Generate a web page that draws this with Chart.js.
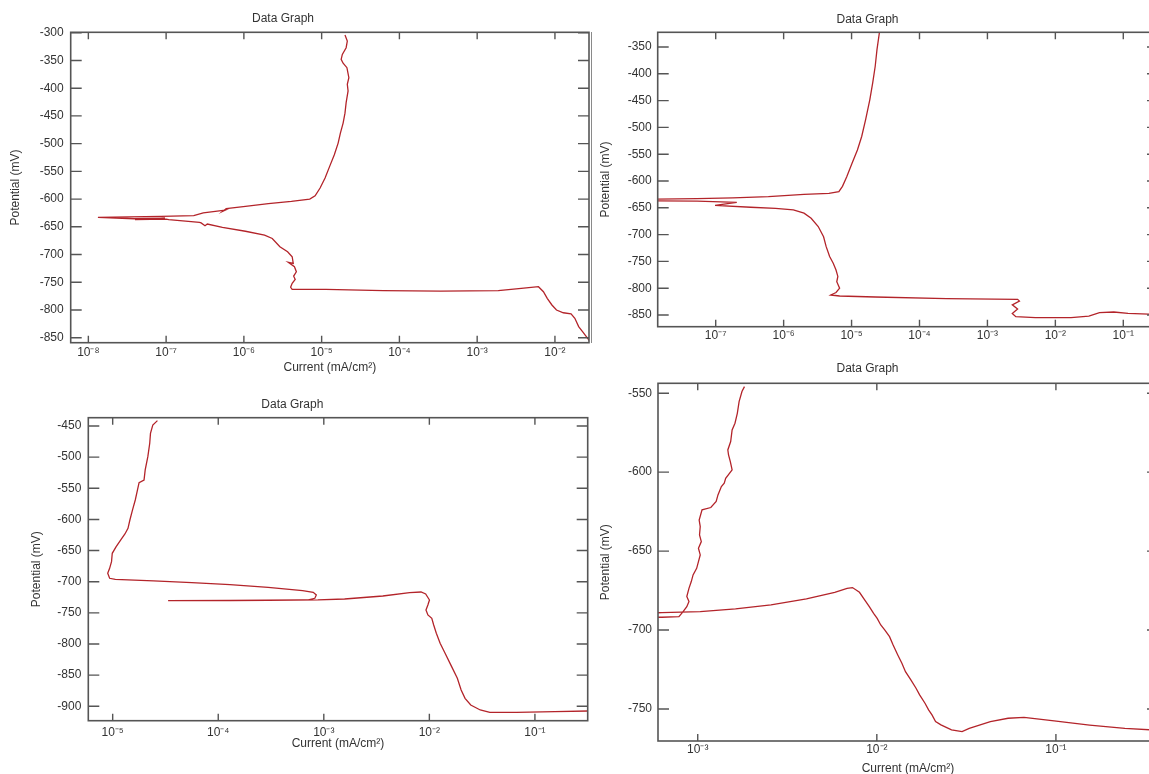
<!DOCTYPE html>
<html>
<head>
<meta charset="utf-8">
<title>Data Graph</title>
<script src="https://cdn.jsdelivr.net/npm/chart.js@4.4.1/dist/chart.umd.min.js"></script>
<style>
  body { margin: 0; width: 1149px; height: 774px; overflow: hidden; background: #fff; position: relative; }
  canvas { position: absolute; }
  #sep { position: absolute; left: 591px; top: 32px; width: 1px; height: 311px; background: #8a8a8a; }
</style>
</head>
<body>
<canvas id="p1" width="623" height="380" style="left:-23px;top:0"></canvas>
<canvas id="p2" width="581" height="360" style="left:577px;top:0"></canvas>
<canvas id="p3" width="603" height="394" style="left:-3px;top:380px"></canvas>
<canvas id="p4" width="581" height="421" style="left:577px;top:355px"></canvas>
<div id="sep"></div>
<script>
// log10 of current (mA/cm²) and potential (mV) in drawing order

// top left
const p1LogI = [-4.700, -4.670, -4.685, -4.734, -4.749, -4.724, -4.675, -4.650, -4.670, -4.660,
  -4.685, -4.700, -4.724, -4.759, -4.788, -4.837, -4.897, -4.956, -5.020, -5.084, -5.153, -5.389,
  -5.685, -5.980, -6.227, -6.270, -6.240, -6.522, -6.645, -7.064, -7.877, -7.409, -7.015, -7.400,
  -7.000, -6.966, -6.571, -6.550, -6.500, -6.470, -6.276, -5.980, -5.734, -5.635, -5.537, -5.438,
  -5.379, -5.365, -5.429, -5.350, -5.325, -5.360, -5.340, -5.379, -5.399, -5.379, -4.946, -4.207,
  -3.468, -2.729, -2.433, -2.212, -2.148, -2.099, -2.039, -1.980, -1.892, -1.793, -1.744, -1.695,
  -1.645, -1.596, -1.547];
const p1Potential = [-304, -315, -327, -339, -348, -355, -363, -381, -393, -405, -426, -445, -463,
  -481, -499, -520, -541, -562, -580, -594, -600, -604, -608, -613, -617, -622, -620, -625, -630,
  -631, -633, -635.5, -634.5, -637, -636, -637, -642, -643, -648, -645, -651, -658, -665, -671,
  -686, -695, -704, -716, -714, -722, -731, -739, -745, -752, -759, -763, -763, -765, -766, -765,
  -761, -758, -767, -779, -791, -800, -805, -807, -815, -830, -839, -848, -857];
const p1XTicks = [1e-8, 1e-7, 1e-6, 1e-5, 1e-4, 1e-3, 1e-2];
const p1XLabels = ['10⁻⁸', '10⁻⁷', '10⁻⁶', '10⁻⁵', '10⁻⁴', '10⁻³', '10⁻²'];
const p1YTicks = [-300, -350, -400, -450, -500, -550, -600, -650, -700, -750, -800, -850];
const p1Range = { x: [-8.227, -1.562], y: [-859.0, -299.2] };

// top right
const p2LogI = [-4.589, -4.626, -4.652, -4.689, -4.731, -4.794, -4.851, -4.914, -4.993, -5.071,
  -5.134, -5.187, -5.333, -5.700, -6.224, -6.748, -7.273, -8.000, -8.000, -7.273, -6.690, -7.010,
  -6.486, -6.119, -5.857, -5.700, -5.595, -5.491, -5.412, -5.375, -5.323, -5.270, -5.229, -5.202,
  -5.218, -5.176, -5.229, -5.307, -5.176, -4.652, -3.604, -2.556, -2.529, -2.634, -2.556, -2.634,
  -2.582, -2.293, -1.769, -1.507, -1.350, -1.140, -0.931, -0.627, -0.450];
const p2Potential = [-322, -355, -386, -417, -448, -486, -517, -542, -567, -592, -610, -620, -623,
  -625, -629, -631.5, -633, -634, -637, -637.5, -640, -645.6, -649, -651, -654, -660, -669.5, -685,
  -704, -722, -741, -753.5, -766, -778, -788, -800, -808, -812.7, -814.5, -816.4, -819.5, -820.8,
  -824, -831, -839, -847, -853, -855, -855, -852, -845.7, -844.4, -847, -848.2, -848.5];
const p2XTicks = [1e-7, 1e-6, 1e-5, 1e-4, 1e-3, 1e-2, 1e-1];
const p2XLabels = ['10⁻⁷', '10⁻⁶', '10⁻⁵', '10⁻⁴', '10⁻³', '10⁻²', '10⁻¹'];
const p2YTicks = [-350, -400, -450, -500, -550, -600, -650, -700, -750, -800, -850];
const p2Range = { x: [-7.854, -0.489], y: [-871.8, -322.6] };

// bottom left
const p3LogI = [-0.497, -0.812, -1.174, -1.427, -1.518, -1.608, -1.662, -1.699, -1.735, -1.789,
  -1.851, -1.898, -1.934, -1.959, -1.977, -2.014, -2.032, -2.014, -1.999, -2.035, -2.079, -2.187,
  -2.441, -2.803, -3.056, -3.527, -3.889, -4.475, -3.889, -3.201, -3.147, -3.085, -3.071, -3.100,
  -3.201, -3.527, -3.889, -4.251, -4.613, -4.975, -5.029, -5.047, -5.029, -5.011, -5.004, -4.967,
  -4.920, -4.884, -4.855, -4.837, -4.812, -4.786, -4.765, -4.750, -4.703, -4.692, -4.667, -4.649,
  -4.642, -4.620, -4.576];
const p3Potential = [-907.5, -908.6, -909.6, -909.6, -905.9, -897.9, -887.2, -873.8, -855.1,
  -836.3, -814.9, -798.9, -782.8, -769.5, -758.8, -753.4, -745.4, -737.3, -729.3, -719.7, -716.5,
  -717.5, -722.9, -727.7, -729.3, -729.9, -730.4, -730.4, -729.9, -729.3, -729.3, -726.6, -721.3,
  -717.0, -714.3, -709.0, -704.7, -701.5, -698.8, -696.1, -694.5, -686.5, -678.5, -667.8, -654.4,
  -643.7, -631.9, -623.4, -614.3, -600.9, -584.8, -568.8, -552.7, -541.0, -536.7, -520.6, -499.2,
  -477.8, -461.8, -448.4, -441.4];
const p3XTicks = [1e-5, 1e-4, 1e-3, 1e-2, 1e-1];
const p3XLabels = ['10⁻⁵', '10⁻⁴', '10⁻³', '10⁻²', '10⁻¹'];
const p3YTicks = [-450, -500, -550, -600, -650, -700, -750, -800, -850, -900];
const p3Range = { x: [-5.231, -0.500], y: [-923.1, -436.7] };

// bottom right
const p4LogI = [-0.430, -0.615, -0.812, -1.010, -1.178, -1.267, -1.366, -1.484, -1.524, -1.583,
  -1.642, -1.672, -1.692, -1.711, -1.731, -1.761, -1.781, -1.810, -1.840, -1.860, -1.883, -1.909,
  -1.929, -1.955, -1.978, -1.998, -2.018, -2.042, -2.067, -2.097, -2.136, -2.166, -2.235, -2.393,
  -2.591, -2.789, -2.986, -3.200, -3.300, -3.300, -3.200, -3.105, -3.085, -3.061, -3.049, -3.061,
  -3.049, -3.036, -3.026, -3.006, -2.996, -2.986, -2.996, -2.980, -2.990, -2.986, -2.992, -2.976,
  -2.927, -2.897, -2.887, -2.868, -2.852, -2.844, -2.808, -2.818, -2.828, -2.832, -2.816, -2.808,
  -2.792, -2.779, -2.769, -2.753, -2.739];
const p4Potential = [-763.5, -762.3, -760.2, -757.6, -755.3, -755.9, -758.0, -762.3, -764.4,
  -763.3, -760.1, -758.0, -753.8, -750.6, -746.4, -741.1, -736.9, -731.6, -726.4, -721.1, -715.8,
  -709.5, -704.2, -700.0, -696.8, -692.6, -689.4, -685.2, -681.0, -676.1, -673.1, -673.6, -676.1,
  -680.3, -684.1, -686.6, -688.3, -689.0, -689.2, -691.9, -691.9, -691.5, -688.8, -685.2, -682.0,
  -678.8, -673.6, -669.3, -665.1, -660.9, -656.7, -652.4, -648.2, -644.0, -639.8, -634.5, -630.3,
  -623.9, -622.4, -618.6, -614.4, -609.1, -607.0, -603.9, -598.6, -593.3, -589.1, -585.9, -580.6,
  -573.2, -569.0, -562.7, -555.3, -548.9, -545.8];
const p4XTicks = [1e-3, 1e-2, 1e-1];
const p4XLabels = ['10⁻³', '10⁻²', '10⁻¹'];
const p4YTicks = [-550, -600, -650, -700, -750];
const p4Range = { x: [-3.202, -0.430], y: [-770.3, -543.7] };

const ink = '#333';
const curveRed = '#b3242a';
Chart.defaults.font.family = '"Liberation Sans", Arial, sans-serif';
Chart.defaults.font.size = 12;
Chart.defaults.color = ink;

// box round the plot with short inward ticks on all four sides
const frameTicks = {
  id: 'frameTicks',
  afterDatasetsDraw(chart, args, opts) {
    const { ctx, chartArea: a } = chart;
    const xs = chart.scales.x, ys = chart.scales.y;
    ctx.save();
    ctx.strokeStyle = '#555';
    ctx.lineWidth = 1.4;
    ctx.beginPath();
    xs.ticks.forEach(t => {
      const px = xs.getPixelForValue(t.value);
      ctx.moveTo(px, a.top); ctx.lineTo(px, a.top + opts.xLen);
      ctx.moveTo(px, a.bottom); ctx.lineTo(px, a.bottom - opts.xLen);
    });
    ys.ticks.forEach(t => {
      const py = ys.getPixelForValue(t.value);
      ctx.moveTo(a.left, py); ctx.lineTo(a.left + opts.yLen, py);
      ctx.moveTo(a.right, py); ctx.lineTo(a.right - opts.yLen, py);
    });
    ctx.stroke();
    ctx.lineWidth = 1.6;
    ctx.strokeRect(a.left, a.top, a.right - a.left, a.bottom - a.top);
    ctx.restore();
  }
};

function makePanel(id, logI, potential, range, xTicks, xLabels, yTicks, box) {
  const points = logI.map((e, i) => ({ x: 10 ** e, y: potential[i] }));
  new Chart(document.getElementById(id), {
    type: 'scatter',
    data: {
      datasets: [{
        data: points,
        showLine: true,
        borderColor: curveRed,
        borderWidth: 1.3,
        pointRadius: 0,
        tension: 0
      }]
    },
    options: {
      responsive: false,
      animation: false,
      events: [],
      layout: { padding: { left: 0, right: box.padRight, top: 0, bottom: 0 }, autoPadding: false },
      plugins: {
        legend: { display: false },
        tooltip: { enabled: false },
        title: {
          display: true,
          text: 'Data Graph',
          font: { size: 12, weight: 'normal' },
          color: ink,
          padding: { top: box.titleTop, bottom: box.titleBottom }
        },
        frameTicks: { xLen: 7, yLen: 11 }
      },
      scales: {
        x: {
          type: 'logarithmic',
          min: 10 ** range.x[0],
          max: 10 ** range.x[1],
          grid: { display: false, drawTicks: false },
          border: { display: false },
          afterBuildTicks: s => { s.ticks = xTicks.map(v => ({ value: v })); },
          afterFit: s => { s.height = box.xHeight; },
          ticks: { autoSkip: false, maxRotation: 0, padding: box.xPad, color: ink,
                   callback: (v, i) => xLabels[i] },
          title: { display: box.xTitle, text: 'Current (mA/cm²)', color: ink,
                   padding: { top: 0, bottom: box.xTitlePad } }
        },
        y: {
          type: 'linear',
          min: range.y[0],
          max: range.y[1],
          grid: { display: false, drawTicks: false },
          border: { display: false },
          afterBuildTicks: s => { s.ticks = yTicks.map(v => ({ value: v })); },
          afterFit: s => { s.width = box.yWidth; },
          ticks: { padding: box.yPad, color: ink, callback: v => String(v) },
          title: { display: true, text: 'Potential (mV)', color: ink,
                   padding: { top: box.yTitlePad, bottom: 0 } }
        }
      }
    },
    plugins: [frameTicks]
  });
}

makePanel('p1', p1LogI, p1Potential, p1Range, p1XTicks, p1XLabels, p1YTicks,
  { padRight: 11, titleTop: 11.1, titleBottom: 6.8, yWidth: 93.7, xHeight: 37.3,
    xPad: 3, yPad: 7, xTitle: true, xTitlePad: 4.8, yTitlePad: 31.8 });
makePanel('p2', p2LogI, p2Potential, p2Range, p2XTicks, p2XLabels, p2YTicks,
  { padRight: 0, titleTop: 12.1, titleBottom: 5.8, yWidth: 80.7, xHeight: 33.3,
    xPad: 2, yPad: 6, xTitle: false, xTitlePad: 0, yTitlePad: 21.8 });
makePanel('p3', p3LogI, p3Potential, p3Range, p3XTicks, p3XLabels, p3YTicks,
  { padRight: 12.3, titleTop: 17.1, titleBottom: 6.2, yWidth: 91.3, xHeight: 53.3,
    xPad: 5, yPad: 7, xTitle: true, xTitlePad: 23.5, yTitlePad: 32.4 });
makePanel('p4', p4LogI, p4Potential, p4Range, p4XTicks, p4XLabels, p4YTicks,
  { padRight: 0, titleTop: 6.8, titleBottom: 7.1, yWidth: 81, xHeight: 35,
    xPad: 1, yPad: 6, xTitle: true, xTitlePad: 0.5, yTitlePad: 21.8 });
</script>
</body>
</html>
